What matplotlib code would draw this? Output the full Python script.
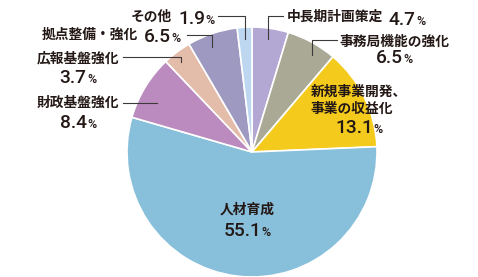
import matplotlib
matplotlib.use("Agg")
import matplotlib.pyplot as plt

# data (clockwise from 12 o'clock)
names = ["中長期計画策定", "事務局機能の強化", "新規事業開発、\n事業の収益化", "人材育成",
         "財政基盤強化", "広報基盤強化", "拠点整備・強化", "その他"]
values = [4.7, 6.5, 13.1, 55.1, 8.4, 3.7, 6.5, 1.9]
colors = ["#b3a8d4", "#a9a995", "#f4cb1c", "#88bfdb",
          "#bb8bbf", "#e3bcaa", "#9e99c1", "#bcd7ef"]

W, H = 478, 277
TXT = "#231815"

fig = plt.figure(figsize=(W / 100, H / 100), dpi=100)
ax = fig.add_axes([0, 0, 1, 1])

ax.pie(values, colors=colors, startangle=90, counterclock=False,
       center=(252, H - 152), radius=125,
       wedgeprops=dict(edgecolor="white", linewidth=1.2))
ax.set_xlim(0, W)
ax.set_ylim(0, H)
ax.set_aspect("auto")
ax.axis("off")

renderer = fig.canvas.get_renderer()
name_kw = dict(family=["Noto Sans CJK JP", "DejaVu Sans"], weight="bold",
               fontsize=9.9, color=TXT, va="center")
num_kw = dict(family=["Roboto", "Liberation Sans"], weight="medium",
              fontsize=13.8, color=TXT, va="baseline")
pct_kw = dict(family=["Roboto", "Liberation Sans"], weight="medium",
              fontsize=9, color=TXT, va="baseline")


def width(t):
    bb = t.get_window_extent(renderer)
    return bb.x1 - bb.x0


def value_row(x, base, val, align):
    num = ax.text(x, H - base, f"{val:.1f}", ha="left", **num_kw)
    pct = ax.text(x, H - base, "%", ha="left", **pct_kw)
    wn, wp = width(num), width(pct)
    if align == "center":
        x0 = x - (wn + 0.5 + wp) / 2
        num.set_x(x0)
    else:
        x0 = x
    pct.set_x(x0 + wn + 0.5)


# inline labels: (value start x, name centre y, value baseline)
inline = {0: (389, 17, 25), 6: (144, 35, 42), 7: (178, 16.5, 24)}
# stacked labels: (centre x, name centre y, value baseline)
stacked = {1: (394, 42, 63), 2: (359, 100, 133), 3: (247, 210, 236),
           4: (78, 103, 128), 5: (78, 58, 83)}

for i, (x, ny, base) in inline.items():
    ax.text(x - 6, H - ny, names[i], ha="right", **name_kw)
    value_row(x, base, values[i], "left")

for i, (x, ny, base) in stacked.items():
    ax.text(x, H - ny, names[i], ha="center", multialignment="left",
            linespacing=1.3, **name_kw)
    value_row(x, base, values[i], "center")

# leader lines (pixel coords from top)
leaders = [
    [(283, 16), (268, 16), (268, 39)],
    [(337, 40), (312, 40), (312, 55)],
    [(123, 103), (157, 103)],
    [(123, 57), (181, 57), (181, 62)],
    [(187, 35), (212, 35), (212, 47)],
    [(218, 16), (245, 16), (245, 39)],
]
for pts in leaders:
    ax.plot([p[0] for p in pts], [H - p[1] for p in pts], color="#3e3a39", lw=0.8)

fig.savefig("out.png", dpi=100)
